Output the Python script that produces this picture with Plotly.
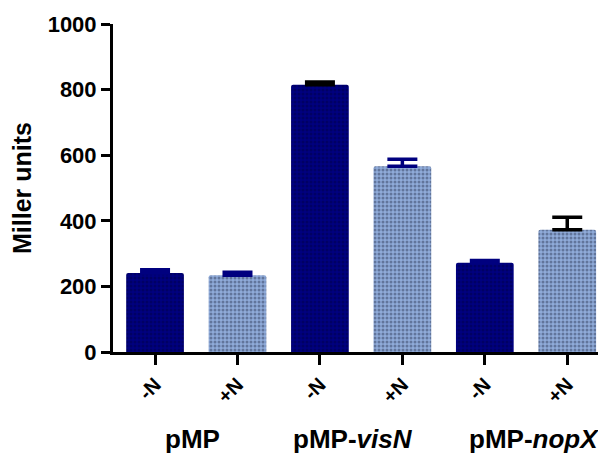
import plotly.graph_objects as go

# Data
conditions = ["-N", "+N", "-N", "+N", "-N", "+N"]
groups = ["pMP", "pMP-<i>visN</i>", "pMP-<i>nopX</i>"]
values = [241, 234, 815, 566, 272, 373]
errors = [10, 9, 8, 22, 7, 38]
y_ticks = [0, 200, 400, 600, 800, 1000]

# Styles
bar_colors = ["#00007f", "#8fabd9", "#00007f", "#8fabd9", "#00007f", "#8fabd9"]
dot_colors = ["#00004a", "#34405e", "#00004a", "#34405e", "#00004a", "#34405e"]
err_colors = ["#00007f", "#00007f", "#000000", "#00007f", "#00007f", "#000000"]
FONT = "Arial, Liberation Sans, sans-serif"

fig = go.Figure()
for i, (v, e) in enumerate(zip(values, errors)):
    fig.add_trace(go.Bar(
        x=[i], y=[v], width=0.7,
        marker=dict(color=bar_colors[i], line=dict(width=0),
                    pattern=dict(shape=".", fgcolor=dot_colors[i], size=4, solidity=0.45)),
        error_y=dict(type="data", symmetric=False, array=[e], arrayminus=[0],
                     color=err_colors[i], thickness=3.5, width=15),
        showlegend=False,
    ))

# page body has an 8px margin, so the figure is 8px smaller and margins shifted
fig.update_layout(
    width=598, height=446,
    margin=dict(l=105, r=0, t=16, b=101.5),
    barmode="overlay",
    barcornerradius=2,
    plot_bgcolor="white", paper_bgcolor="white",
    font=dict(family=FONT, color="black"),
    xaxis=dict(
        range=[-0.51, 5.47], tickmode="array", tickvals=list(range(6)),
        ticktext=["<b>%s</b>" % c for c in conditions],
        tickangle=-45, tickfont=dict(size=20, family=FONT),
        showline=True, linecolor="black", linewidth=3,
        ticks="outside", ticklen=10, tickwidth=3, tickcolor="black",
        showgrid=False, zeroline=False, automargin=False,
    ),
    yaxis=dict(
        range=[0, 1000], tickmode="array", tickvals=y_ticks,
        ticktext=["<b>%d</b>" % t for t in y_ticks],
        tickfont=dict(size=22, family=FONT),
        showline=True, linecolor="black", linewidth=3,
        ticks="outside", ticklen=9, tickwidth=3, tickcolor="black",
        showgrid=False, zeroline=False, automargin=False,
        title=dict(text="<b>Miller units</b>", font=dict(size=25, family=FONT), standoff=10),
    ),
)

group_x = [0.46, 2.40, 4.60]
for gx, g in zip(group_x, groups):
    fig.add_annotation(x=gx, xref="x", y=-0.266, yref="paper", text="<b>%s</b>" % g,
                       showarrow=False, font=dict(size=26, family=FONT, color="black"),
                       xanchor="center", yanchor="middle")

fig.write_html("out.html")
